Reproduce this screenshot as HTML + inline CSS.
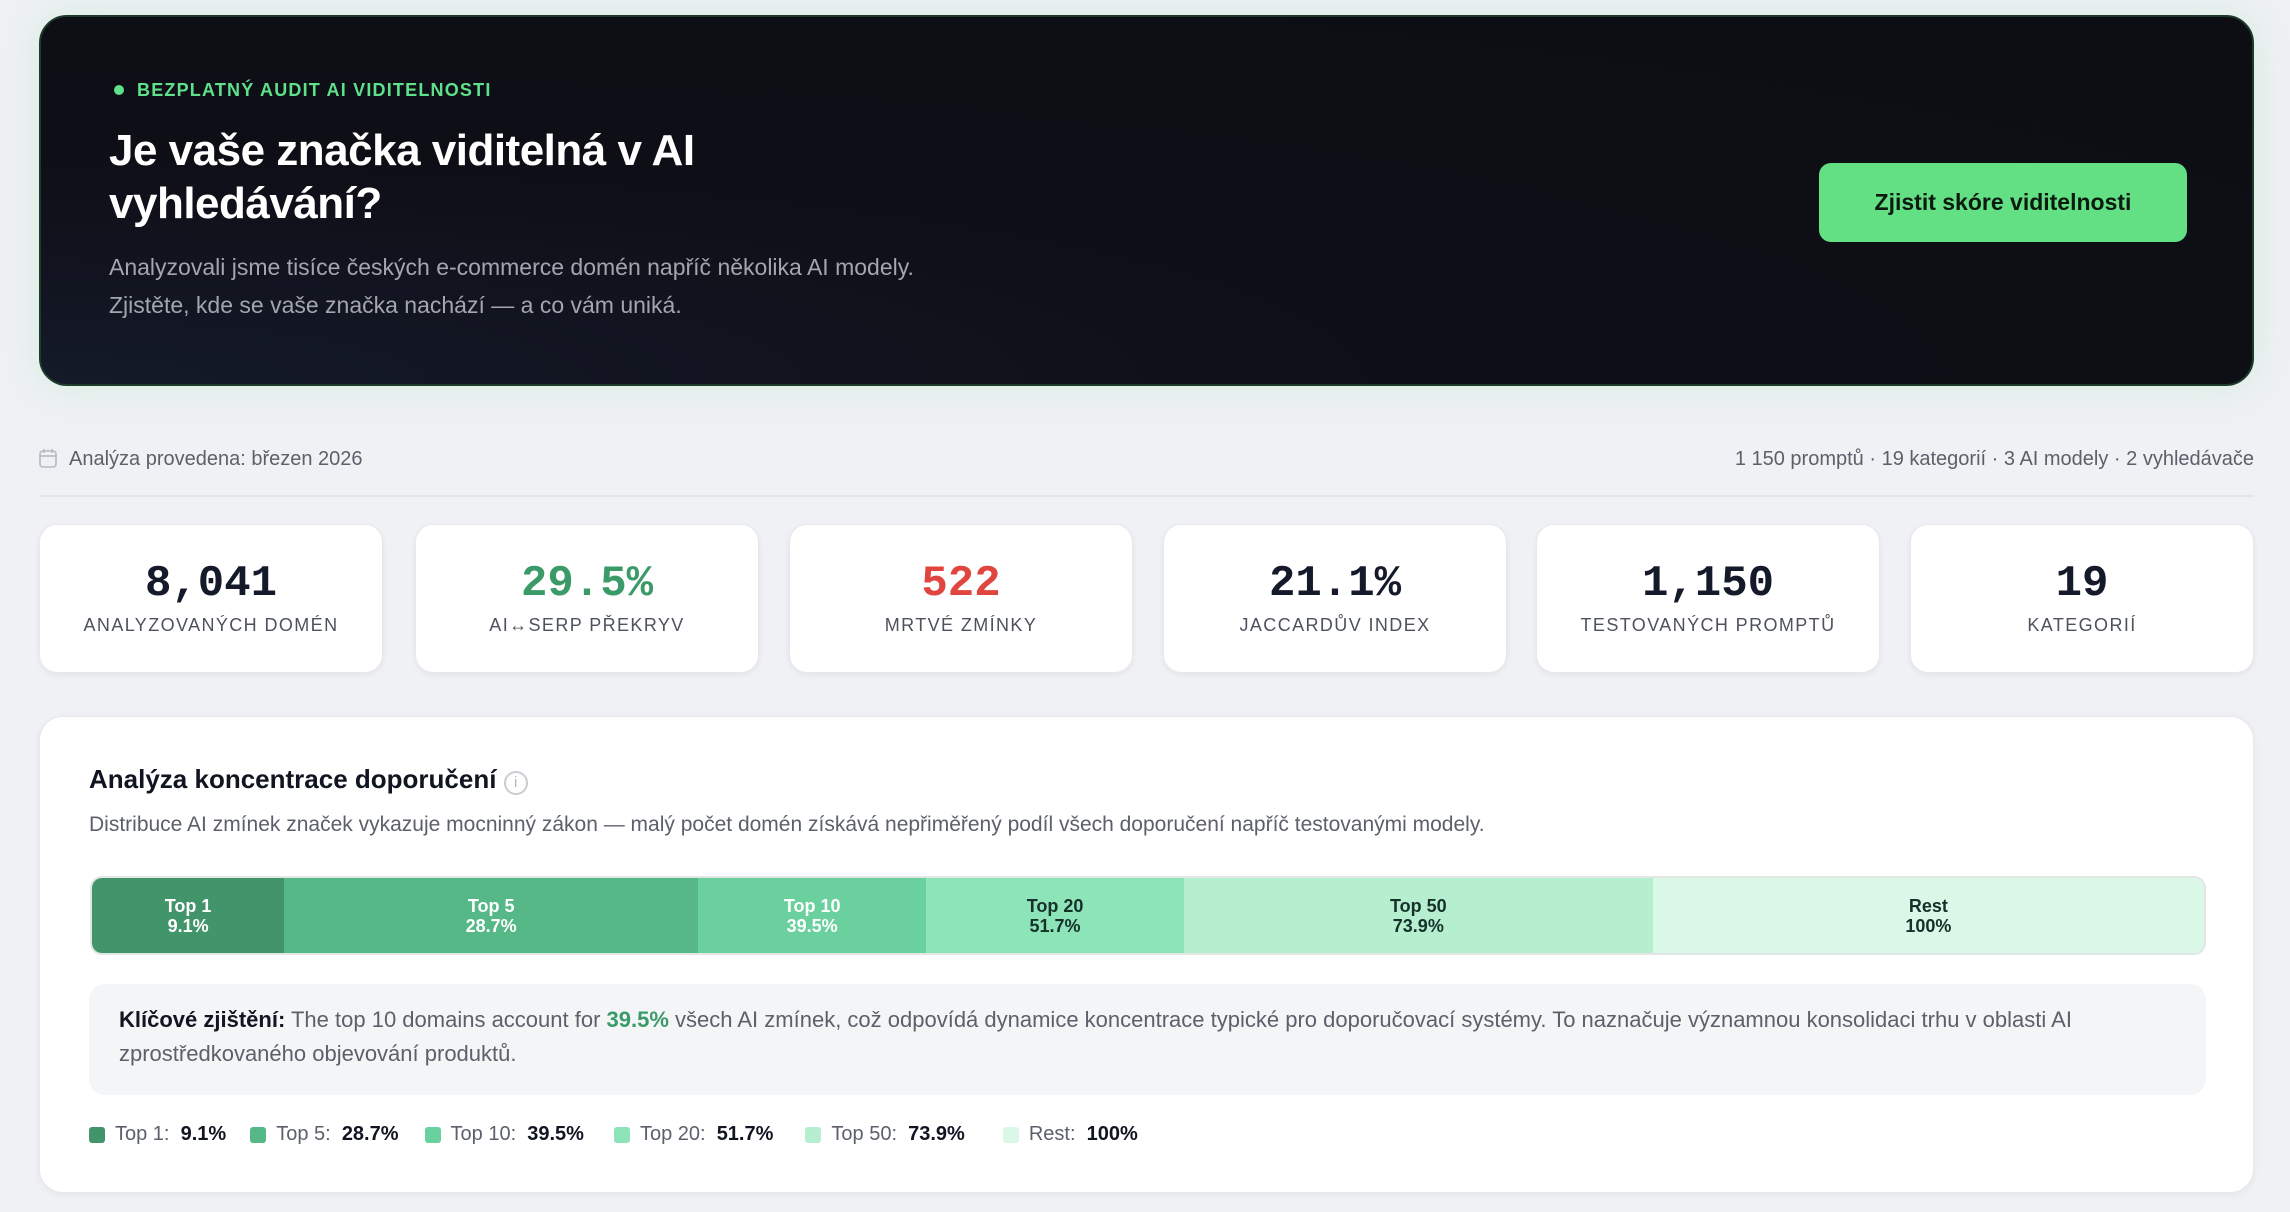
<!DOCTYPE html>
<html><head><meta charset="utf-8"><style>
*{box-sizing:border-box;margin:0;padding:0}
body{width:2290px;height:1212px;background:#eff1f4;font-family:"Liberation Sans",sans-serif;position:relative;overflow:hidden}
.hero{position:absolute;left:39px;top:15px;width:2215px;height:371px;border-radius:28px;background:radial-gradient(ellipse at 0% 100%,#141a28 0%,#0e0e16 45%,#0d0d14 100%);border:2px solid #1d3a2a;box-shadow:0 0 40px rgba(100,220,140,.18)}
.badge{position:absolute;left:73px;top:63px;color:#5fe08a;font-weight:bold;font-size:18px;letter-spacing:1.2px}
.badge:before{content:"";display:inline-block;width:10px;height:10px;border-radius:50%;background:#5fe08a;margin-right:13px;vertical-align:1px}
.title{position:absolute;left:68px;top:107px;color:#fff;font-weight:bold;font-size:44px;line-height:53px;letter-spacing:-0.5px}
.sub{position:absolute;left:68px;top:231px;color:#a3a6ae;font-size:23px;line-height:38px}
.btn{position:absolute;left:1778px;top:146px;width:368px;height:79px;border-radius:12px;background:#63e084;color:#0c1a10;font-weight:bold;font-size:23px;display:flex;align-items:center;justify-content:center}
.meta{position:absolute;top:448px;font-size:20px;color:#5b606a}
.divider{position:absolute;left:39px;top:495px;width:2215px;height:2px;background:#e2e5ea}
.card{position:absolute;top:524px;width:344px;height:149px;background:#fff;border-radius:18px;box-shadow:0 2px 6px rgba(0,0,0,.06);border:1px solid #e6e8ec;text-align:center}
.card .n{font-family:"Liberation Mono",monospace;font-weight:bold;font-size:44px;margin-top:34px;color:#151a2a}
.card .l{font-size:18px;letter-spacing:1.4px;color:#4d525c;margin-top:6px}
.panel{position:absolute;left:39px;top:716px;width:2215px;height:477px;background:#fff;border-radius:24px;border:1px solid #e6e8ec;box-shadow:0 2px 8px rgba(0,0,0,.05)}
</style></head><body>
<div class="hero">
<div class="badge">BEZPLATNÝ AUDIT AI VIDITELNOSTI</div>
<div class="title">Je vaše značka viditelná v AI<br>vyhledávání?</div>
<div class="sub">Analyzovali jsme tisíce českých e-commerce domén napříč několika AI modely.<br>Zjistěte, kde se vaše značka nachází — a co vám uniká.</div>
<div class="btn">Zjistit skóre viditelnosti</div>
</div>
<div class="meta" style="left:39px"><svg width="18" height="20" viewBox="0 0 18 20" style="vertical-align:-3px;margin-right:12px"><rect x="1" y="3" width="16" height="16" rx="3" fill="none" stroke="#b5b9c0" stroke-width="1.6"/><line x1="1" y1="8" x2="17" y2="8" stroke="#b5b9c0" stroke-width="1.6"/><line x1="5" y1="1" x2="5" y2="5" stroke="#b5b9c0" stroke-width="1.6"/><line x1="13" y1="1" x2="13" y2="5" stroke="#b5b9c0" stroke-width="1.6"/></svg>Analýza provedena: březen 2026</div>
<div class="meta" style="right:36px">1 150 promptů · 19 kategorií · 3 AI modely · 2 vyhledávače</div>
<div class="divider"></div>
<div class="card" style="left:39px"><div class="n">8,041</div><div class="l">ANALYZOVANÝCH DOMÉN</div></div>
<div class="card" style="left:415px"><div class="n" style="color:#3a9a68">29.5%</div><div class="l">AI↔SERP PŘEKRYV</div></div>
<div class="card" style="left:789px"><div class="n" style="color:#e0463f">522</div><div class="l">MRTVÉ ZMÍNKY</div></div>
<div class="card" style="left:1163px"><div class="n">21.1%</div><div class="l">JACCARDŮV INDEX</div></div>
<div class="card" style="left:1536px"><div class="n">1,150</div><div class="l">TESTOVANÝCH PROMPTŮ</div></div>
<div class="card" style="left:1910px"><div class="n">19</div><div class="l">KATEGORIÍ</div></div>
<div class="panel">
<div style="position:absolute;left:49px;top:47px;font-weight:bold;font-size:26px;color:#111522">Analýza koncentrace doporučení <span style="display:inline-block;width:24px;height:24px;border:2px solid #c9ccd2;border-radius:50%;font-size:15px;color:#b5b9c0;text-align:center;line-height:20px;vertical-align:1px;font-weight:normal">i</span></div>
<div style="position:absolute;left:49px;top:96px;font-size:21px;color:#5b606a">Distribuce AI zmínek značek vykazuje mocninný zákon — malý počet domén získává nepřiměřený podíl všech doporučení napříč testovanými modely.</div>
<div id="bar" style="position:absolute;left:50px;top:159px;width:2116px;height:79px;border-radius:12px;overflow:hidden;border:2px solid #e2e6e4;display:flex"></div>
<div style="position:absolute;left:49px;top:267px;width:2117px;height:111px;background:#f4f5f7;border-radius:16px;padding:19px 30px;font-size:22px;line-height:34px;color:#5b606a"><b style="color:#111522">Klíčové zjištění:</b> The top 10 domains account for <b style="color:#3a9a68">39.5%</b> všech AI zmínek, což odpovídá dynamice koncentrace typické pro doporučovací systémy. To naznačuje významnou konsolidaci trhu v oblasti AI zprostředkovaného objevování produktů.</div>
<div id="legend" style="position:absolute;left:49px;top:406px;display:flex;font-size:20px;color:#5b606a"></div>
</div>
<script>
const categories=["Top 1","Top 5","Top 10","Top 20","Top 50","Rest"];
const cumulative=[9.1,28.7,39.5,51.7,73.9,100];
const colors=["#42946a","#55b886","#6ad09e","#8de4b8","#b5efd0","#d9f8e7"];
const textColors=["#fff","#fff","#fff","#16302a","#16302a","#16302a"];
const bar=document.getElementById('bar');
const legend=document.getElementById('legend');
const legendGaps=[24,26,30,32,38,0];
categories.forEach((c,i)=>{
  const prev=i?cumulative[i-1]:0;
  const seg=document.createElement('div');
  
  
  seg.style.cssText='height:100%;display:flex;flex-direction:column;align-items:center;justify-content:center;font-weight:bold;font-size:18px;line-height:20px;width:'+((cumulative[i]-prev)/100*100)+'%;background:'+colors[i]+';color:'+textColors[i];
  seg.innerHTML='<div>'+c+'</div><div>'+cumulative[i]+'%</div>';
  bar.appendChild(seg);
  const it=document.createElement('div');
  
  
  it.style.cssText='display:flex;align-items:center;margin-right:'+legendGaps[i]+'px';
  it.innerHTML='<span style="display:inline-block;width:16px;height:16px;border-radius:3px;background:'+colors[i]+';margin-right:10px"></span>'+c+':&nbsp;&nbsp;<b style="color:#111522">'+cumulative[i]+'%</b>';
  legend.appendChild(it);
});
</script>
</body></html>
